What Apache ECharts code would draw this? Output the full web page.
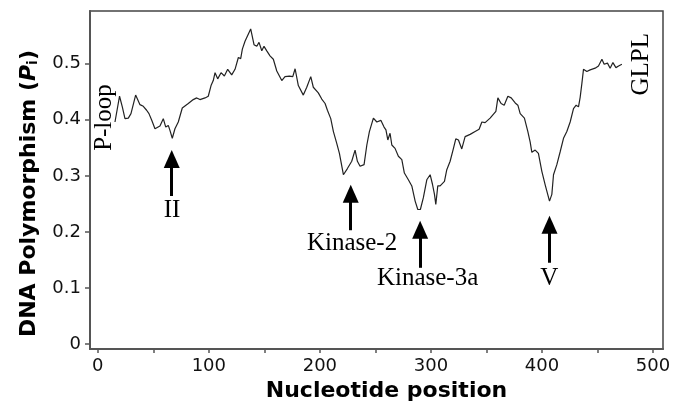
<!DOCTYPE html>
<html>
<head>
<meta charset="utf-8">
<script src="https://cdn.jsdelivr.net/npm/echarts@6/dist/echarts.min.js"></script>
<style>
html, body { margin: 0; padding: 0; background: #fff; }
#chart { width: 674px; height: 407px; }
</style>
</head>
<body>
<div id="chart"></div>
<script>
// nucleotide position of each point of the sliding window curve
var positions = [
    15.5, 19.6, 22.1, 24.5, 27.5, 29.9, 34.1, 38.0, 41.0, 44.0, 46.1, 48.6, 51.5, 56.0, 59.0,
    61.2, 63.5, 65.0, 67.1, 69.5, 72.5, 76.1, 81.5, 86.0, 89.1, 92.0, 96.6, 99.5, 102.0, 104.0,
    105.6, 108.0, 111.0, 114.0, 117.0, 120.6, 123.6, 126.6, 128.7, 130.2, 132.6, 137.7, 140.7, 143.2, 145.2,
    147.7, 149.7, 152.2, 155.1, 158.1, 161.2, 165.7, 168.6, 172.5, 175.6, 177.7, 180.6, 185.1, 188.2, 191.8,
    194.1, 198.6, 201.7, 204.7, 206.8, 209.8, 212.2, 215.2, 217.6, 221.2, 224.8, 228.7, 231.7, 233.8, 236.2,
    239.8, 242.3, 244.6, 248.2, 251.3, 254.9, 257.8, 259.5, 261.2, 263.2, 264.8, 267.7, 270.7, 273.8, 276.1,
    279.7, 282.8, 285.8, 288.2, 290.5, 293.2, 296.3, 299.3, 301.4, 303.2, 304.4, 306.2, 308.3, 312.2, 314.3,
    317.3, 320.3, 322.4, 324.8, 327.8, 330.8, 335.3, 339.8, 343.4, 345.9, 348.8, 353.3, 358.5, 360.3, 363.2,
    366.0, 369.3, 372.3, 375.9, 378.3, 380.4, 384.2, 387.3, 389.4, 390.9, 393.9, 396.8, 399.9, 402.9, 406.8,
    408.9, 410.4, 413.4, 416.4, 419.4, 422.4, 425.4, 428.4, 430.8, 432.9, 434.4, 435.9, 437.4, 440.4, 443.4,
    447.9, 450.9, 454.0, 456.0, 459.0, 461.4, 463.9, 466.6, 469.0, 472.0
];
// DNA polymorphism Pi at each position
var polymorphism = [
    0.396, 0.442, 0.423, 0.402, 0.403, 0.411, 0.444, 0.427, 0.424, 0.417, 0.411, 0.399, 0.384, 0.389, 0.402,
    0.387, 0.390, 0.381, 0.367, 0.384, 0.396, 0.421, 0.429, 0.436, 0.439, 0.436, 0.439, 0.442, 0.461, 0.470,
    0.484, 0.473, 0.484, 0.478, 0.490, 0.480, 0.490, 0.511, 0.509, 0.526, 0.540, 0.562, 0.534, 0.531, 0.538,
    0.523, 0.531, 0.523, 0.514, 0.508, 0.487, 0.470, 0.477, 0.478, 0.477, 0.491, 0.461, 0.444, 0.458, 0.477,
    0.458, 0.448, 0.437, 0.429, 0.417, 0.402, 0.379, 0.358, 0.340, 0.302, 0.313, 0.326, 0.346, 0.326, 0.317,
    0.320, 0.355, 0.379, 0.403, 0.396, 0.399, 0.387, 0.382, 0.364, 0.376, 0.355, 0.349, 0.335, 0.329, 0.305,
    0.293, 0.282, 0.255, 0.240, 0.240, 0.261, 0.293, 0.302, 0.285, 0.267, 0.249, 0.282, 0.282, 0.290, 0.311,
    0.326, 0.349, 0.366, 0.364, 0.348, 0.370, 0.374, 0.379, 0.383, 0.396, 0.395, 0.403, 0.415, 0.439, 0.429,
    0.426, 0.442, 0.439, 0.430, 0.426, 0.411, 0.403, 0.379, 0.360, 0.342, 0.346, 0.340, 0.308, 0.284, 0.255,
    0.267, 0.302, 0.320, 0.343, 0.367, 0.379, 0.396, 0.420, 0.426, 0.423, 0.440, 0.464, 0.490, 0.486, 0.489,
    0.492, 0.496, 0.508, 0.499, 0.501, 0.492, 0.502, 0.493, 0.496, 0.499
];

var xTickLabels = [0, 100, 200, 300, 400, 500];
var xTicks = [0, 50, 100, 150, 200, 250, 300, 350, 400, 450, 500];
var yTicks = [0, 0.1, 0.2, 0.3, 0.4, 0.5];

// arrows: position, arrow tip and tail (in Pi units)
var arrowNames = ['II', 'Kinase-2', 'Kinase-3a', 'V'];
var arrowPos = [66.6, 227.8, 290.3, 406.8];
var arrowTip = [0.346, 0.284, 0.220, 0.229];
var arrowTail = [0.264, 0.203, 0.136, 0.145];

// motif labels: text, position, height, rotation
var labelTexts = ['II', 'Kinase-2', 'Kinase-3a', 'V', 'P-loop', 'GLPL'];
var labelPos = [66.8, 229, 297, 406.5, 5.6, 490];
var labelY = [0.238, 0.180, 0.117, 0.117, 0.404, 0.499];
var labelRot = [0, 0, 0, 0, 90, 90];

var chart = echarts.init(document.getElementById('chart'));

var lineData = positions.map(function (p, i) { return [p, polymorphism[i]]; });
var headHalf = 0.016; // half of arrow head height in data units

var arrowLines = arrowPos.map(function (p, i) {
    return [{ coord: [p, arrowTail[i]] }, { coord: [p, arrowTip[i] - headHalf] }];
});

var labelData = labelTexts.map(function (t, i) {
    return {
        name: t,
        value: [labelPos[i], labelY[i]],
        label: { rotate: labelRot[i] }
    };
});

var tickFont = { fontFamily: 'DejaVu Sans', fontSize: 18, color: '#111' };

var option = {
    animation: false,
    grid: {
        left: 90,
        right: 11,
        top: 11,
        bottom: 54,
        show: true,
        borderColor: '#444',
        borderWidth: 1.5
    },
    xAxis: {
        type: 'value',
        min: -7,
        max: 509,
        name: 'Nucleotide position',
        nameLocation: 'middle',
        nameGap: 27,
        nameTextStyle: {
            fontFamily: 'DejaVu Sans',
            fontWeight: 'bold',
            fontSize: 22,
            color: '#000',
            padding: [0, 0, 0, 20]
        },
        axisLine: { onZero: false, lineStyle: { color: '#555', width: 2 } },
        axisTick: { show: true, length: 4, lineStyle: { color: '#555', width: 1.5 }, customValues: xTicks },
        axisLabel: Object.assign({ margin: 8, customValues: xTickLabels }, tickFont),
        splitLine: { show: false }
    },
    yAxis: {
        type: 'value',
        min: -0.009,
        max: 0.594,
        name: '{n|DNA Polymorphism (}{p|P}{s|i}{n|)}',
        nameLocation: 'middle',
        nameGap: 50,
        nameTextStyle: {
            padding: [0, 27, 0, 0],
            rich: {
                n: { fontFamily: 'DejaVu Sans', fontWeight: 'bold', fontSize: 22, color: '#000' },
                p: { fontFamily: 'DejaVu Sans', fontWeight: 'bold', fontStyle: 'italic', fontSize: 22, color: '#000' },
                s: { fontFamily: 'DejaVu Sans', fontWeight: 'bold', fontSize: 14, color: '#000', verticalAlign: 'bottom' }
            }
        },
        axisLine: { show: true, onZero: false, lineStyle: { color: '#555', width: 2 } },
        axisTick: { show: true, length: 5, lineStyle: { color: '#555', width: 1.5 }, customValues: yTicks },
        axisLabel: Object.assign({ margin: 9, customValues: yTicks }, tickFont),
        splitLine: { show: false }
    },
    series: [{
        name: 'Pi',
        type: 'line',
        data: lineData,
        showSymbol: false,
        lineStyle: { color: '#222', width: 1.2 },
        markLine: {
            silent: true,
            symbol: ['none', 'triangle'],
            symbolSize: [16, 18],
            label: { show: false },
            lineStyle: { color: '#000', width: 3, type: 'solid' },
            data: arrowLines
        }
    }, {
        name: 'labels',
        type: 'scatter',
        silent: true,
        symbolSize: 0,
        itemStyle: { opacity: 1 },
        data: labelData,
        label: {
            show: true,
            position: 'inside',
            formatter: function (p) { return p.name; },
            fontFamily: 'Liberation Serif',
            fontSize: 25,
            color: '#000',
            opacity: 1
        }
    }]
};

chart.setOption(option);
</script>
</body>
</html>
